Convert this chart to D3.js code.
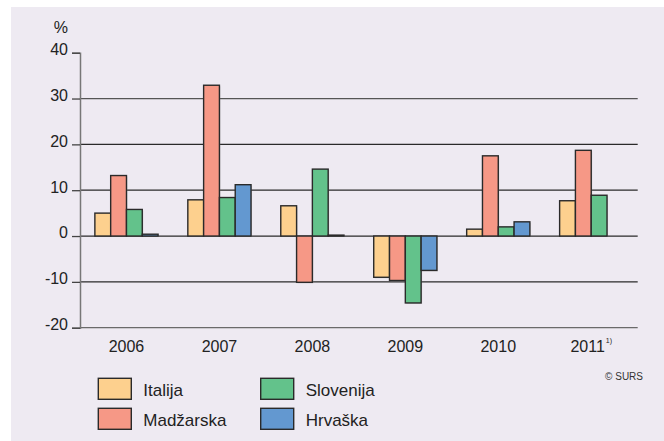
<!DOCTYPE html>
<html><head><meta charset="utf-8">
<script src="https://cdn.jsdelivr.net/npm/d3@7"></script>
<style>html,body{margin:0;padding:0;background:#fff;}svg{display:block;}</style>
</head><body>
<svg id="c" width="664" height="441"></svg>
<script>
const years = ["2006","2007","2008","2009","2010","2011"];
const series = ["Italija","Madžarska","Slovenija","Hrvaška"];
const italija   = [5.0, 7.9, 6.6, -9.0, 1.5, 7.7];
const madzarska = [13.2, 32.9, -10.1, -9.7, 17.5, 18.7];
const slovenija = [5.8, 8.4, 14.6, -14.6, 2.0, 8.9];
const hrvaska   = [0.4, 11.2, 0.2, -7.5, 3.1, null];
const yTicks = [40, 30, 20, 10, 0, -10, -20];
const colors = ["#FDD08E", "#F69886", "#63C28B", "#6398D0"];
const values = [italija, madzarska, slovenija, hrvaska];

const svg = d3.select("#c");
const font = "'Liberation Sans', Arial, sans-serif";

// panel background
svg.append("rect").attr("x", 11).attr("y", 7).attr("width", 653).attr("height", 434).attr("fill", "#EEEAF2");

const left = 80, right = 637.7;
const y = d3.scaleLinear().domain([-20, 40]).range([327.7, 52.7]);
const x0 = d3.scaleBand().domain(years).range([left, right]).paddingInner(0.32).paddingOuter(0.16);
const x1 = d3.scaleBand().domain(series).range([0, x0.bandwidth()]);

// gridlines
svg.append("g").selectAll("line").data(yTicks.filter(t => t !== 40)).join("line")
  .attr("x1", left).attr("x2", right)
  .attr("y1", d => y(d)).attr("y2", d => y(d))
  .attr("stroke", d => d === -20 ? "#6a6a6a" : (d === 30 ? "#555" : "#2a2a2a"))
  .attr("stroke-width", 1.3);

// y axis
const yAxis = d3.axisLeft(y).tickValues(yTicks).tickSize(8).tickPadding(4).tickFormat(d => d);
const ga = svg.append("g").attr("transform", `translate(${left},0)`).call(yAxis);
ga.select(".domain").attr("stroke", "#777").attr("stroke-width", 1.5);
ga.selectAll(".tick line").attr("stroke", "#444").attr("stroke-width", 1.3);
ga.selectAll(".tick text").attr("font-family", font).attr("font-size", 16).attr("fill", "#222").attr("dy", "0.12em");

svg.append("text").attr("x", 68).attr("y", 33).attr("text-anchor", "end")
  .attr("font-family", font).attr("font-size", 16).attr("fill", "#222").text("%");

// bars
const data = [];
years.forEach((yr, i) => series.forEach((s, j) => {
  if (values[j][i] !== null) data.push({yr, s, j, v: values[j][i]});
}));
const bars = svg.append("g");
bars.selectAll("rect.sh").data(data).join("rect").attr("class", "sh")
  .attr("x", d => x0(d.yr) + x1(d.s) + 1)
  .attr("y", d => Math.min(y(d.v), y(0)) + 1)
  .attr("width", x1.bandwidth())
  .attr("height", d => Math.abs(y(d.v) - y(0)))
  .attr("fill", "#999").attr("opacity", 0.35);
bars.selectAll("rect.b").data(data).join("rect").attr("class", "b")
  .attr("x", d => x0(d.yr) + x1(d.s))
  .attr("y", d => Math.min(y(d.v), y(0)))
  .attr("width", x1.bandwidth())
  .attr("height", d => Math.abs(y(d.v) - y(0)))
  .attr("fill", d => colors[d.j])
  .attr("stroke", "#2a2a2a").attr("stroke-width", 1.4);

// x labels
const xl = svg.append("g").selectAll("text").data(years).join("text")
  .attr("x", d => x0(d) + x0.bandwidth() / 2)
  .attr("y", 352)
  .attr("text-anchor", "middle")
  .attr("font-family", font).attr("font-size", 16).attr("fill", "#222")
  .text(d => d);
xl.filter(d => d === "2011").append("tspan")
  .attr("font-size", 7).attr("dy", -9).attr("dx", 1).text("1)");

// legend
const legPos = [[98.3, 378.3], [98.3, 408.3], [260.7, 378.3], [260.7, 408.3]];
const lg = svg.append("g").selectAll("g").data(series).join("g")
  .attr("transform", (d, i) => `translate(${legPos[i][0]},${legPos[i][1]})`);
lg.append("rect").attr("width", 33).attr("height", 21)
  .attr("fill", (d, i) => colors[i]).attr("stroke", "#2a2a2a").attr("stroke-width", 1.4);
lg.append("text").attr("x", 45).attr("y", 17.4)
  .attr("font-family", font).attr("font-size", 17).attr("fill", "#222").text(d => d);

svg.append("text").attr("x", 643).attr("y", 380).attr("text-anchor", "end")
  .attr("font-family", font).attr("font-size", 10).attr("fill", "#333").text("© SURS");
</script>
</body></html>
